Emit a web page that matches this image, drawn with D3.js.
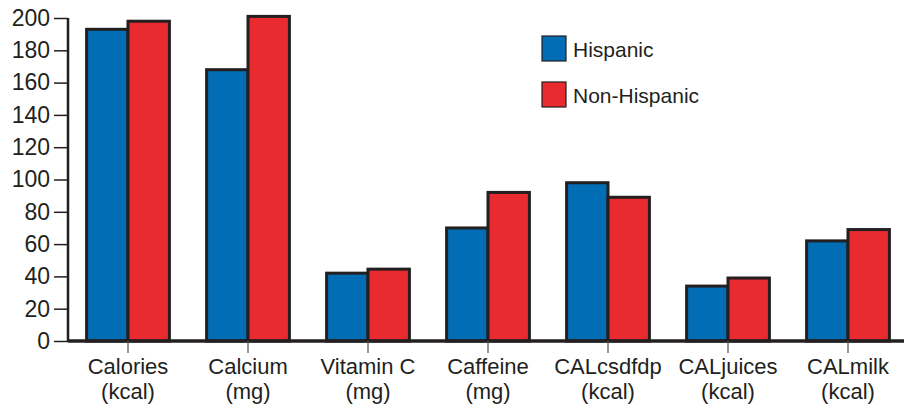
<!DOCTYPE html>
<html>
<head>
<meta charset="utf-8">
<script src="https://cdn.jsdelivr.net/npm/d3@7"></script>
<style>
  body { margin: 0; background: #fff; }
  svg { display: block; font-family: "Liberation Sans", Arial, Helvetica, sans-serif; }
</style>
</head>
<body>
<svg id="chart" width="904" height="412"></svg>
<script>
// categories and the two series
var categories = ["Calories", "Calcium", "Vitamin C", "Caffeine", "CALcsdfdp", "CALjuices", "CALmilk"];
var units = ["(kcal)", "(mg)", "(mg)", "(mg)", "(kcal)", "(kcal)", "(kcal)"];
var hispanic = [193, 168, 42, 70, 98, 34, 62];
var nonHispanic = [198, 201, 44.5, 92, 89, 39, 69];
var seriesNames = ["Hispanic", "Non-Hispanic"];
var yTicks = [0, 20, 40, 60, 80, 100, 120, 140, 160, 180, 200];

var colors = ["#006db4", "#e92a2e"];
var ink = "#231f20";

var svg = d3.select("#chart");

var x0 = d3.scaleBand()
  .domain(categories)
  .range([68, 908])
  .paddingInner(0.31)
  .paddingOuter(0.155);

var x1 = d3.scaleBand()
  .domain(seriesNames)
  .range([0, x0.bandwidth()]);

var y = d3.scaleLinear()
  .domain([0, 200])
  .range([341, 18]);

var rows = categories.map(function(c, i) {
  return { cat: c, unit: units[i], vals: [hispanic[i], nonHispanic[i]] };
});

// bars
var groups = svg.append("g")
  .selectAll("g")
  .data(rows)
  .join("g")
  .attr("transform", function(d) { return "translate(" + x0(d.cat) + ",0)"; });

groups.selectAll("rect")
  .data(function(d) { return d.vals.map(function(v, j) { return { name: seriesNames[j], v: v, j: j }; }); })
  .join("rect")
  .attr("x", function(d) { return x1(d.name); })
  .attr("y", function(d) { return y(d.v); })
  .attr("width", x1.bandwidth())
  .attr("height", function(d) { return y(0) - y(d.v); })
  .attr("fill", function(d) { return colors[d.j]; })
  .attr("stroke", ink)
  .attr("stroke-width", 3);

// y axis
var yAxis = svg.append("g")
  .attr("transform", "translate(68,0)")
  .call(d3.axisLeft(y).tickValues(yTicks).tickSize(14).tickPadding(4));
yAxis.select(".domain").attr("stroke", ink).attr("stroke-width", 2.5).attr("d", "M0,18V342");
yAxis.selectAll(".tick line").attr("stroke", ink).attr("stroke-width", 1.5);
yAxis.selectAll(".tick text")
  .attr("fill", ink)
  .style("font-size", "23px")
  .style("font-family", "'Liberation Sans', Arial, sans-serif");

// x axis
var xAxis = svg.append("g")
  .attr("transform", "translate(0,341)")
  .call(d3.axisBottom(x0).tickSize(12).tickFormat(""));
xAxis.select(".domain").attr("stroke", ink).attr("stroke-width", 3.5).attr("d", "M68,0H904");
xAxis.selectAll(".tick line").attr("stroke", "#555").attr("stroke-width", 1.2);

// two-line category labels, drawn as two separate text rows
var labelRows = svg.append("g")
  .selectAll("g")
  .data(rows)
  .join("g")
  .attr("transform", function(d) { return "translate(" + (x0(d.cat) + x0.bandwidth() / 2) + ",0)"; })
  .attr("text-anchor", "middle")
  .attr("fill", ink)
  .style("font-size", "22px");
labelRows.append("text")
  .attr("y", 374)
  .text(function(d) { return d.cat; });
labelRows.append("text")
  .attr("y", 399)
  .text(function(d) { return d.unit; });

// legend
var legend = svg.append("g")
  .selectAll("g")
  .data(seriesNames)
  .join("g")
  .attr("transform", function(d, i) { return "translate(542," + (36 + i * 46) + ")"; });
legend.append("rect")
  .attr("width", 24)
  .attr("height", 25)
  .attr("fill", function(d, i) { return colors[i]; })
  .attr("stroke", ink)
  .attr("stroke-width", 1.2);
legend.append("text")
  .attr("x", 31)
  .attr("y", 21)
  .attr("fill", ink)
  .style("font-size", "21px")
  .text(function(d) { return d; });
</script>
</body>
</html>
